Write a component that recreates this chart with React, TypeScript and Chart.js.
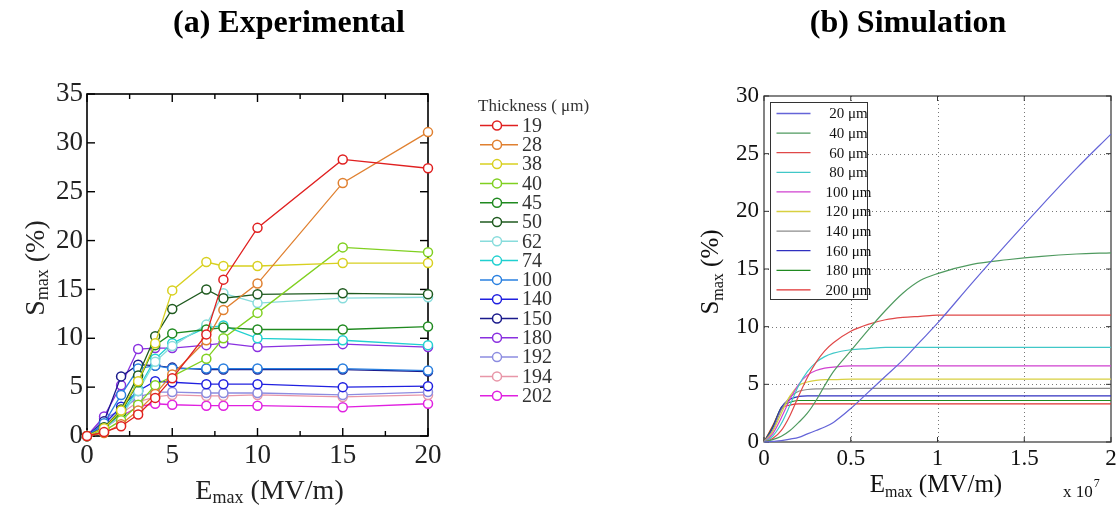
import React, { useEffect, useRef } from "react";
import { Chart, registerables } from "chart.js";
Chart.register(...registerables);

const SERIF = "'Liberation Serif', 'Times New Roman', serif";

// ---------- (a) Experimental ----------
const expField = [0, 1, 2, 3, 4, 5, 7, 8, 10, 15, 20];
const expThickness = ["19", "28", "38", "40", "45", "50", "62", "74", "100", "140", "150", "180", "192", "194", "202"];
const expColors = ["#e02020", "#e08030", "#d8d020", "#80d020", "#208a20", "#1f5a1f", "#88dcdc", "#20d0d0", "#2a80e0", "#2020e0", "#1a1a8c", "#8a30e0", "#8c8ce0", "#e896a8", "#e020e0"];
const t19 = [0, 0.4, 1.0, 2.2, 3.9, 5.9, 10.4, 16.0, 21.3, 28.3, 27.4];
const t28 = [0, 0.3, 1.2, 2.6, 4.3, 6.3, 9.8, 12.9, 15.6, 25.9, 31.1];
const t38 = [0, 0.8, 2.6, 5.6, 9.5, 14.9, 17.8, 17.4, 17.4, 17.7, 17.7];
const t40 = [0, 0.5, 1.6, 3.2, 5.2, 6.1, 7.9, 10.0, 12.6, 19.3, 18.8];
const t45 = [0, 0.8, 2.4, 5.5, 9.3, 10.5, 10.9, 11.1, 10.9, 10.9, 11.2];
const t50 = [0, 0.9, 2.7, 6.2, 10.2, 13.0, 15.0, 14.1, 14.5, 14.6, 14.5];
const t62 = [0, 0.8, 2.0, 4.6, 7.6, 9.2, 11.4, 14.6, 13.6, 14.1, 14.2];
const t74 = [0, 0.8, 2.3, 4.8, 7.9, 9.5, 11.1, 11.3, 10.0, 9.8, 9.3];
const t100 = [0, 1.3, 4.2, 6.9, 7.2, 6.9, 6.9, 6.9, 6.9, 6.9, 6.7];
const t140 = [0, 1.2, 3.0, 4.6, 5.6, 5.5, 5.3, 5.3, 5.3, 5.0, 5.1];
const t150 = [0, 1.5, 6.1, 7.3, 7.2, 7.0, 6.8, 6.8, 6.8, 6.8, 6.6];
const t180 = [0, 2.0, 5.2, 8.9, 9.0, 9.0, 9.3, 9.5, 9.1, 9.4, 9.1];
const t192 = [0, 1.8, 2.6, 4.0, 4.5, 4.5, 4.4, 4.4, 4.4, 4.2, 4.5];
const t194 = [0, 1.0, 2.3, 3.5, 4.0, 4.2, 4.1, 4.1, 4.2, 4.0, 4.2];
const t202 = [0, 0.8, 2.0, 3.0, 3.3, 3.2, 3.1, 3.1, 3.1, 2.95, 3.3];
const expSeries = [t19, t28, t38, t40, t45, t50, t62, t74, t100, t140, t150, t180, t192, t194, t202];
const expXTicks = [0, 5, 10, 15, 20];
const expYTicks = [0, 5, 10, 15, 20, 25, 30, 35];

// ---------- (b) Simulation ----------
const simField = [0, 0.05, 0.1, 0.15, 0.2, 0.25, 0.3, 0.35, 0.4, 0.5, 0.6, 0.7, 0.8, 0.9, 1.0, 1.2, 1.4, 1.6, 1.8, 2.0];
const simThickness = ["20 μm", "40 μm", "60 μm", "80 μm", "100 μm", "120 μm", "140 μm", "160 μm", "180 μm", "200 μm"];
const simColors = ["#6464d8", "#4f9a5f", "#e04848", "#40c8c8", "#d040d0", "#d8d040", "#8c8c8c", "#3030c0", "#208a20", "#e03030"];
const m20 = [0, 0.05, 0.12, 0.25, 0.4, 0.7, 1.0, 1.3, 1.7, 2.9, 4.3, 5.7, 7.1, 8.7, 10.3, 13.8, 17.2, 20.5, 23.7, 26.7];
const m40 = [0, 0.2, 0.5, 1.0, 1.7, 2.5, 3.6, 4.9, 6.1, 7.9, 9.7, 11.4, 12.9, 14.0, 14.6, 15.4, 15.8, 16.1, 16.3, 16.4];
const m60 = [0, 0.3, 1.0, 2.3, 4.0, 5.6, 6.9, 7.9, 8.6, 9.6, 10.2, 10.6, 10.8, 10.9, 11.0, 11.0, 11.0, 11.0, 11.0, 11.0];
const m80 = [0, 0.5, 1.6, 3.2, 4.9, 6.1, 6.9, 7.4, 7.7, 8.0, 8.1, 8.2, 8.2, 8.2, 8.2, 8.2, 8.2, 8.2, 8.2, 8.2];
const m100 = [0, 0.7, 2.1, 3.7, 5.0, 5.8, 6.2, 6.4, 6.5, 6.6, 6.6, 6.6, 6.6, 6.6, 6.6, 6.6, 6.6, 6.6, 6.6, 6.6];
const m120 = [0, 0.9, 2.5, 4.0, 4.9, 5.2, 5.35, 5.4, 5.4, 5.45, 5.45, 5.45, 5.45, 5.45, 5.45, 5.45, 5.45, 5.45, 5.45, 5.45];
const m140 = [0, 1.0, 2.8, 3.9, 4.4, 4.55, 4.6, 4.6, 4.62, 4.64, 4.65, 4.65, 4.65, 4.65, 4.65, 4.65, 4.65, 4.65, 4.65, 4.65];
const m160 = [0, 1.2, 3.0, 3.7, 3.95, 4.0, 4.0, 4.0, 4.0, 4.0, 4.0, 4.0, 4.0, 4.0, 4.0, 4.0, 4.0, 4.0, 4.0, 4.0];
const m180 = [0, 1.3, 3.0, 3.45, 3.6, 3.6, 3.6, 3.6, 3.6, 3.6, 3.6, 3.6, 3.6, 3.6, 3.6, 3.6, 3.6, 3.6, 3.6, 3.6];
const m200 = [0, 1.4, 2.9, 3.2, 3.3, 3.3, 3.3, 3.3, 3.3, 3.3, 3.3, 3.3, 3.3, 3.3, 3.3, 3.3, 3.3, 3.3, 3.3, 3.3];
const simSeries = [m20, m40, m60, m80, m100, m120, m140, m160, m180, m200];
const simXTicks = [0, 0.5, 1, 1.5, 2];
const simXTickLabels = ["0", "0.5", "1", "1.5", "2"];
const simYTicks = [0, 5, 10, 15, 20, 25, 30];

type Part = { text: string; size: number; dy: number };

function drawRich(ctx: CanvasRenderingContext2D, parts: Part[], x: number, y: number, rotate: boolean, color = "#111") {
  ctx.save();
  ctx.translate(x, y);
  if (rotate) ctx.rotate(-Math.PI / 2);
  ctx.fillStyle = color;
  ctx.textBaseline = "alphabetic";
  ctx.textAlign = "left";
  const widths = parts.map((p) => {
    ctx.font = `${p.size}px ${SERIF}`;
    return ctx.measureText(p.text).width;
  });
  const total = widths.reduce((a, b) => a + b, 0);
  let cx = -total / 2;
  parts.forEach((p, i) => {
    ctx.font = `${p.size}px ${SERIF}`;
    ctx.fillText(p.text, cx, p.dy);
    cx += widths[i];
  });
  ctx.restore();
}

function line(ctx: CanvasRenderingContext2D, x1: number, y1: number, x2: number, y2: number) {
  ctx.beginPath();
  ctx.moveTo(x1, y1);
  ctx.lineTo(x2, y2);
  ctx.stroke();
}

const leftPlugin = {
  id: "leftDecor",
  beforeDatasetsDraw(chart: any) {
    const { ctx, chartArea: a, scales } = chart;
    const xs = scales.x, ys = scales.y;
    ctx.save();
    ctx.strokeStyle = "#000";
    ctx.lineWidth = 1.6;
    ctx.strokeRect(a.left, a.top, a.right - a.left, a.bottom - a.top);
    ctx.lineWidth = 1.4;
    for (let i = 0; i < expXTicks.length; i++) {
      const v = expXTicks[i];
      const px = xs.getPixelForValue(v);
      line(ctx, px, a.bottom, px, a.bottom - 8);
      line(ctx, px, a.top, px, a.top + 8);
      if (i < expXTicks.length - 1) {
        const mx = xs.getPixelForValue((v + expXTicks[i + 1]) / 2);
        line(ctx, mx, a.bottom, mx, a.bottom - 5);
        line(ctx, mx, a.top, mx, a.top + 5);
      }
    }
    for (const v of expYTicks) {
      const py = ys.getPixelForValue(v);
      line(ctx, a.left, py, a.left + 8, py);
      line(ctx, a.right, py, a.right - 8, py);
    }
    ctx.restore();
  },
  afterDraw(chart: any) {
    const { ctx, chartArea: a } = chart;
    ctx.save();
    drawRich(ctx, [
      { text: "E", size: 28, dy: 0 },
      { text: "max", size: 18, dy: 4 },
      { text: " (MV/m)", size: 28, dy: 0 },
    ], (a.left + a.right) / 2 + 12, 499, false, "#222");
    drawRich(ctx, [
      { text: "S", size: 28, dy: 0 },
      { text: "max", size: 18, dy: 4 },
      { text: " (%)", size: 28, dy: 0 },
    ], 44, 268, true, "#222");
    // legend
    const lx = a.right + 52;
    ctx.fillStyle = "#333";
    ctx.font = `17px ${SERIF}`;
    ctx.textBaseline = "middle";
    ctx.textAlign = "left";
    ctx.fillText("Thickness ( μm)", lx - 2, 107);
    expThickness.forEach((t, i) => {
      const y = 125.5 + i * 19.3;
      ctx.strokeStyle = expColors[i];
      ctx.lineWidth = 1.5;
      line(ctx, lx, y, lx + 38, y);
      ctx.beginPath();
      ctx.arc(lx + 17, y, 4.5, 0, Math.PI * 2);
      ctx.fillStyle = "#fff";
      ctx.fill();
      ctx.stroke();
      ctx.fillStyle = "#333";
      ctx.font = `20px ${SERIF}`;
      ctx.fillText(t, lx + 42, y + 1);
    });
    ctx.restore();
  },
};

const rightPlugin = {
  id: "rightDecor",
  beforeDatasetsDraw(chart: any) {
    const { ctx, chartArea: a, scales } = chart;
    const xs = scales.x, ys = scales.y;
    ctx.save();
    ctx.strokeStyle = "#777";
    ctx.lineWidth = 1;
    ctx.setLineDash([1, 3]);
    for (const v of simXTicks.slice(1, -1)) {
      const px = Math.round(xs.getPixelForValue(v)) + 0.5;
      line(ctx, px, a.top, px, a.bottom);
    }
    for (const v of simYTicks.slice(1, -1)) {
      const py = Math.round(ys.getPixelForValue(v)) + 0.5;
      line(ctx, a.left, py, a.right, py);
    }
    ctx.setLineDash([]);
    ctx.strokeStyle = "#333";
    for (const v of simXTicks) {
      const px = xs.getPixelForValue(v);
      line(ctx, px, a.bottom, px, a.bottom - 5);
      line(ctx, px, a.top, px, a.top + 5);
    }
    for (const v of simYTicks) {
      const py = ys.getPixelForValue(v);
      line(ctx, a.left, py, a.left + 5, py);
      line(ctx, a.right, py, a.right - 5, py);
    }
    ctx.lineWidth = 1.2;
    ctx.strokeRect(a.left, a.top, a.right - a.left, a.bottom - a.top);
    ctx.restore();
  },
  afterDraw(chart: any) {
    const { ctx, chartArea: a } = chart;
    ctx.save();
    drawRich(ctx, [
      { text: "E", size: 25, dy: 0 },
      { text: "max", size: 16, dy: 5 },
      { text: " (MV/m)", size: 25, dy: 0 },
    ], 296, 492, false, "#111");
    drawRich(ctx, [
      { text: "S", size: 25, dy: 0 },
      { text: "max", size: 16, dy: 5 },
      { text: " (%)", size: 25, dy: 0 },
    ], 78, 272, true, "#111");
    // exponent
    ctx.fillStyle = "#111";
    ctx.textAlign = "left";
    ctx.textBaseline = "alphabetic";
    ctx.font = `17px ${SERIF}`;
    ctx.fillText("x 10", a.right - 48, 497);
    const w = ctx.measureText("x 10").width;
    ctx.font = `12px ${SERIF}`;
    ctx.fillText("7", a.right - 48 + w + 1, 487);
    // legend
    const bx = a.left + 6.5, by = a.top + 6.5, bw = 97, bh = 197;
    ctx.fillStyle = "#fff";
    ctx.fillRect(bx, by, bw, bh);
    ctx.strokeStyle = "#333";
    ctx.lineWidth = 1;
    ctx.strokeRect(bx, by, bw, bh);
    simThickness.forEach((t, i) => {
      const y = by + 11 + i * 19.6;
      ctx.strokeStyle = simColors[i];
      ctx.lineWidth = 1.3;
      line(ctx, bx + 6, y, bx + 40, y);
      ctx.fillStyle = "#111";
      ctx.font = `15px ${SERIF}`;
      ctx.textAlign = "center";
      ctx.textBaseline = "middle";
      ctx.fillText(t, bx + 78, y + 1);
    });
    ctx.restore();
  },
};

function leftConfig(): any {
  return {
    type: "line",
    data: {
      datasets: expSeries.map((vals, i) => ({
        label: expThickness[i],
        data: expField.map((e, j) => ({ x: e, y: vals[j] })),
        borderColor: expColors[i],
        backgroundColor: "#fff",
        borderWidth: 1.3,
        pointRadius: 4.5,
        pointBorderWidth: 1.5,
        pointBackgroundColor: "#fff",
        pointBorderColor: expColors[i],
        tension: 0,
        clip: false,
      })),
    },
    options: {
      responsive: false,
      animation: false,
      devicePixelRatio: 1,
      layout: { padding: { left: 0, top: 94, right: 212, bottom: 0 } },
      plugins: { legend: { display: false }, tooltip: { enabled: false } },
      scales: {
        x: {
          type: "linear",
          min: 0,
          max: 20,
          afterBuildTicks: (s: any) => { s.ticks = expXTicks.map((v) => ({ value: v })); },
          afterFit: (s: any) => { s.height = 72; },
          grid: { display: false, drawTicks: false },
          border: { display: false },
          ticks: { padding: 4, color: "#222", font: { family: SERIF, size: 27 }, maxRotation: 0, callback: (v: any) => String(v) },
        },
        y: {
          type: "linear",
          min: 0,
          max: 35,
          afterBuildTicks: (s: any) => { s.ticks = expYTicks.map((v) => ({ value: v })); },
          afterFit: (s: any) => { s.width = 87; },
          grid: { display: false, drawTicks: false },
          border: { display: false },
          ticks: { padding: 4, color: "#222", font: { family: SERIF, size: 27 }, callback: (v: any) => String(v) },
        },
      },
    },
    plugins: [leftPlugin],
  };
}

function rightConfig(): any {
  return {
    type: "line",
    data: {
      datasets: simSeries.map((vals, i) => ({
        label: simThickness[i],
        data: simField.map((e, j) => ({ x: e, y: vals[j] })),
        borderColor: simColors[i],
        borderWidth: 1.2,
        pointRadius: 0,
        cubicInterpolationMode: "monotone",
        clip: false,
      })),
    },
    options: {
      responsive: false,
      animation: false,
      devicePixelRatio: 1,
      layout: { padding: { left: 0, top: 96, right: 9, bottom: 0 } },
      plugins: { legend: { display: false }, tooltip: { enabled: false } },
      scales: {
        x: {
          type: "linear",
          min: 0,
          max: 2,
          afterBuildTicks: (s: any) => { s.ticks = simXTicks.map((v) => ({ value: v })); },
          afterFit: (s: any) => { s.height = 66; },
          grid: { display: false, drawTicks: false },
          border: { display: false },
          ticks: {
            padding: 3,
            color: "#111",
            font: { family: SERIF, size: 23 },
            maxRotation: 0,
            callback: (v: any) => {
              const k = simXTicks.indexOf(Number(v));
              return k >= 0 ? simXTickLabels[k] : String(v);
            },
          },
        },
        y: {
          type: "linear",
          min: 0,
          max: 30,
          afterBuildTicks: (s: any) => { s.ticks = simYTicks.map((v) => ({ value: v })); },
          afterFit: (s: any) => { s.width = 124; },
          grid: { display: false, drawTicks: false },
          border: { display: false },
          ticks: { padding: 5, color: "#111", font: { family: SERIF, size: 23 }, callback: (v: any) => String(v) },
        },
      },
    },
    plugins: [rightPlugin],
  };
}

const titleBase: React.CSSProperties = {
  position: "absolute",
  top: 1,
  lineHeight: "40px",
  fontFamily: SERIF,
  fontWeight: "bold",
  fontSize: 32,
  textAlign: "center",
  color: "#000",
  whiteSpace: "nowrap",
};

export default function App() {
  const leftRef = useRef<HTMLCanvasElement>(null);
  const rightRef = useRef<HTMLCanvasElement>(null);
  useEffect(() => {
    const c1 = new Chart(leftRef.current as HTMLCanvasElement, leftConfig());
    const c2 = new Chart(rightRef.current as HTMLCanvasElement, rightConfig());
    return () => {
      c1.destroy();
      c2.destroy();
    };
  }, []);
  return (
    <div style={{ position: "fixed", left: 0, top: 0, width: 1120, height: 508, background: "#fff", overflow: "hidden" }}>
      <canvas ref={leftRef} width={640} height={508} style={{ position: "absolute", left: 0, top: 0, width: 640, height: 508 }} />
      <canvas ref={rightRef} width={480} height={508} style={{ position: "absolute", left: 640, top: 0, width: 480, height: 508 }} />
      <div style={{ ...titleBase, left: 0, width: 578 }}>(a) Experimental</div>
      <div style={{ ...titleBase, left: 708, width: 400 }}>(b) Simulation</div>
    </div>
  );
}
